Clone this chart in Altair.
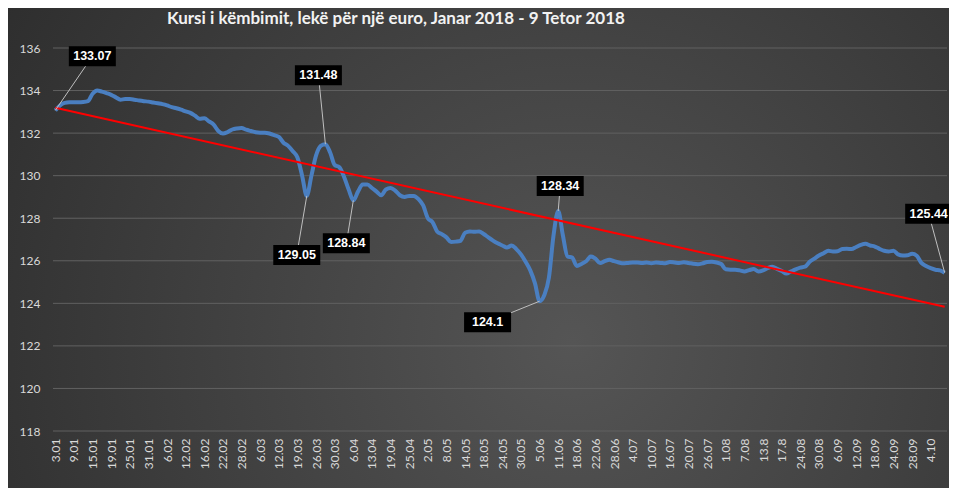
import altair as alt
import pandas as pd

# ---------------- data ----------------
tick_labels = ["3.01", "9.01", "15.01", "19.01", "25.01", "31.01", "6.02", "12.02",
               "16.02", "22.02", "28.02", "6.03", "12.03", "19.03", "26.03", "30.03",
               "6.04", "13.04", "19.04", "25.04", "2.05", "8.05", "14.05", "18.05",
               "24.05", "30.05", "5.06", "11.06", "18.06", "22.06", "28.06", "4.07",
               "10.07", "16.07", "20.07", "26.07", "1.08", "7.08", "13.8", "17.8",
               "24.08", "30.08", "6.09", "12.09", "18.09", "24.09", "28.09", "4.10"]

kurs = [
    133.07, 133.3, 133.42, 133.45, 133.45, 133.45, 133.46, 133.5,
    133.85, 134.0, 133.95, 133.88, 133.8, 133.68, 133.57, 133.6,
    133.6, 133.57, 133.53, 133.5, 133.48, 133.44, 133.4, 133.36,
    133.3, 133.22, 133.17, 133.1, 133.02, 132.95, 132.82, 132.68,
    132.7, 132.55, 132.4, 132.1, 131.98, 132.05, 132.17, 132.22,
    132.24, 132.16, 132.1, 132.04, 132.02, 132.02, 131.98, 131.9,
    131.82, 131.55, 131.4, 131.15, 130.85, 130.0, 129.05, 130.0,
    130.95, 131.4, 131.48, 131.1, 130.5, 130.4, 129.95, 129.35,
    128.84, 129.25, 129.58, 129.58, 129.42, 129.25, 129.08, 129.35,
    129.42, 129.3, 129.08, 129.0, 129.05, 129.05, 128.9, 128.6,
    128.0, 127.82, 127.38, 127.25, 127.1, 126.88, 126.9, 126.94,
    127.32, 127.38, 127.36, 127.38, 127.26, 127.1, 126.95, 126.82,
    126.72, 126.62, 126.72, 126.55, 126.3, 125.95, 125.55, 124.95,
    124.1, 124.38, 125.2, 127.2, 128.34, 127.2, 126.2, 126.15,
    125.76, 125.85, 125.98, 126.2, 126.1, 125.89, 125.98, 126.05,
    125.98, 125.92, 125.88, 125.9, 125.92, 125.92, 125.9, 125.92,
    125.88, 125.92, 125.9, 125.88, 125.94, 125.92, 125.9, 125.93,
    125.9, 125.86, 125.84, 125.88, 125.94, 125.95, 125.92, 125.85,
    125.6, 125.58, 125.58, 125.55, 125.5, 125.56, 125.61, 125.5,
    125.55, 125.66, 125.72, 125.62, 125.52, 125.4, 125.5, 125.6,
    125.68, 125.72, 125.95, 126.1, 126.25, 126.35, 126.47, 126.44,
    126.45, 126.55, 126.56, 126.55, 126.65, 126.75, 126.8, 126.72,
    126.67, 126.56, 126.47, 126.44, 126.47, 126.3, 126.25, 126.26,
    126.33, 126.24, 125.9, 125.75, 125.65, 125.58, 125.55, 125.44,
]

y_ticks = [118, 120, 122, 124, 126, 128, 130, 132, 134, 136]

# labelled points (index into series)
label_points = [0, 58, 54, 64, 108, 104, 191]

# ---------------- layout ----------------
W, H = 894, 383
PAD = {"left": 45, "top": 40, "right": 2, "bottom": 57}
TICK_STEP = 4
# pixel offsets of the label boxes relative to their points
label_dx_px = [37, -7, -10, -7, 2, -52, -16]
label_dy_px = [-54, -69, 59, 43, -25, 21, -59]

n = len(kurs)
df = pd.DataFrame({"i": list(range(n)), "kurs": kurs})

px_per_x = W / n
px_per_y = H / (y_ticks[-1] - y_ticks[0])
ann = pd.DataFrame({
    "i": label_points,
    "kurs": [kurs[k] for k in label_points],
})
ann["txt"] = [str(kurs[k]) for k in label_points]
ann["lx"] = [k + dx / px_per_x for k, dx in zip(label_points, label_dx_px)]
ann["ly"] = [kurs[k] - dy / px_per_y for k, dy in zip(label_points, label_dy_px)]

x_scale = alt.Scale(domain=[-0.5, n - 0.5], nice=False, zero=False)
y_scale = alt.Scale(domain=[y_ticks[0], y_ticks[-1]], nice=False, zero=False)

label_expr = "[" + ",".join("'%s'" % s for s in tick_labels) + "][round(datum.value/%d)]" % TICK_STEP

x_axis = alt.Axis(values=[k * TICK_STEP for k in range(len(tick_labels))],
                  labelExpr=label_expr, labelAngle=-90, grid=False, domain=False,
                  ticks=False, labelColor="#d9d9d9", labelFont="Lato", labelFontSize=12,
                  labelPadding=7, labelOverlap=False, title=None, zindex=1)
y_axis = alt.Axis(values=y_ticks, grid=False, domain=False, ticks=False,
                  labelColor="#d9d9d9", labelFont="Lato", labelFontSize=12,
                  labelPadding=13, title=None, zindex=1)


def X(field):
    return alt.X(field, scale=x_scale, axis=x_axis, title=None)


def Y(field):
    return alt.Y(field, scale=y_scale, axis=y_axis, title=None)


gradient = {
    "gradient": "radial",
    "stops": [{"offset": 0, "color": "#555555"}, {"offset": 1, "color": "#262626"}],
    "x1": 0.6, "y1": 0.6, "x2": 0.6, "y2": 0.6, "r1": 0, "r2": 0.85,
}

bg = alt.Chart(pd.DataFrame({"a": [0]})).mark_rect(fill=gradient).encode(
    x=alt.value(-PAD["left"]), x2=alt.value(W + PAD["right"]),
    y=alt.value(-PAD["top"]), y2=alt.value(H + PAD["bottom"]),
)

grid = alt.Chart(pd.DataFrame({"g": y_ticks})).mark_rule(color="#616161", strokeWidth=1).encode(
    y=Y("g:Q")
)

line = alt.Chart(df).mark_line(color="#4a7fc1", strokeWidth=4, interpolate="monotone").encode(
    x=X("i:Q"), y=Y("kurs:Q"),
)

trend = alt.Chart(df).transform_regression("i", "kurs").mark_line(
    color="#ff0000", strokeWidth=2
).encode(x=X("i:Q"), y=Y("kurs:Q"))

leaders = alt.Chart(ann).mark_rule(color="#bfbfbf", strokeWidth=1).encode(
    x=X("i:Q"), x2="lx:Q", y=Y("kurs:Q"), y2="ly:Q",
)

boxes = alt.Chart(ann).mark_rect(color="#000000", width=47, height=20).encode(
    x=X("lx:Q"), y=Y("ly:Q"),
)

texts = alt.Chart(ann).mark_text(color="#ffffff", font="Liberation Sans", fontWeight="bold",
                                 fontSize=12.5, align="center", baseline="middle").encode(
    x=X("lx:Q"), y=Y("ly:Q"), text="txt:N",
)

chart = alt.layer(bg, grid, line, trend, leaders, boxes, texts).properties(
    width=W, height=H,
    autosize=alt.AutoSizeParams(type="none"),
    padding=PAD,
    background="#3a3a3a",
    title=alt.TitleParams(
        "Kursi i këmbimit, lekë për një euro, Janar 2018 - 9 Tetor 2018",
        anchor="start", frame="group", dx=114, offset=-33, baseline="alphabetic",
        color="#f2f2f2", font="Lato", fontSize=17, fontWeight="bold",
    ),
).configure_view(stroke=None)

chart.save("out.html", embed_options={"renderer": "svg", "actions": False})
